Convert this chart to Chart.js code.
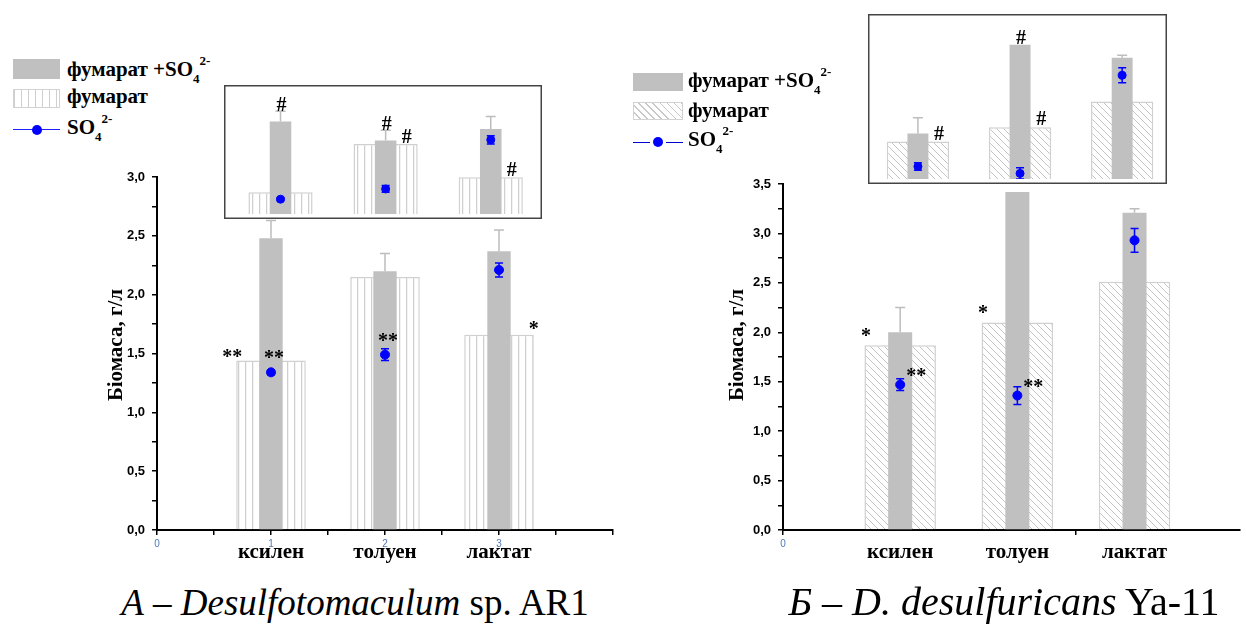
<!DOCTYPE html>
<html>
<head>
<meta charset="utf-8">
<script src="https://cdn.jsdelivr.net/npm/chart.js@4.4.0/dist/chart.umd.min.js"></script>
<style>
  body { margin: 0; width: 1246px; height: 626px; background: #fff; position: relative; overflow: hidden; }
  canvas { position: absolute; }
  .inset { background: #fff; }
  .leg { position: absolute; font: bold 21px 'Liberation Serif'; line-height: 21px; white-space: nowrap; color: #000; }
  .leg sub { font-size: 13px; line-height: 0; vertical-align: -7px; }
  .leg sup { font-size: 13px; line-height: 0; vertical-align: 11px; }
  .sw { position: absolute; box-sizing: border-box; }
  .sw.gray { background: #c0c0c0; }
  .sw.vert { border: 1px solid #d2d2d2; background: repeating-linear-gradient(90deg, #cfcfcf 0 1px, #fff 1px 7px); }
  .sw.diag { border: 1px solid #d2d2d2; background: repeating-linear-gradient(45deg, #fff 0 4px, #c8c8c8 4px 5px); }
  .ln { position: absolute; height: 0; border-top: 1.5px solid #2020ff; }
  .dot { position: absolute; width: 10px; height: 10px; border-radius: 50%; background: #0000ff; }
  .ytitle { position: absolute; width: 200px; height: 24px; line-height: 24px; text-align: center;
            font: bold 21px 'Liberation Serif'; transform: rotate(-90deg); color: #000; }
  .cap { position: absolute; width: 600px; text-align: center; font-family: 'Liberation Serif'; color: #000; white-space: nowrap; }
</style>
</head>
<body>
<canvas id="aMain" width="625" height="430" style="left:0;top:150px"></canvas>
<canvas id="bMain" width="621" height="430" style="left:625px;top:150px"></canvas>
<canvas id="aInset" class="inset" width="318" height="134" style="left:224px;top:85px"></canvas>
<canvas id="bInset" class="inset" width="299" height="170" style="left:868px;top:14px"></canvas>

<!-- legend A -->
<div class="sw gray" style="left:13px;top:59px;width:47px;height:20px"></div>
<div class="leg" style="left:67px;top:59px">фумарат +SO<sub>4</sub><sup>2-</sup></div>
<div class="sw vert" style="left:13px;top:89px;width:47px;height:19px"></div>
<div class="leg" style="left:67px;top:86px">фумарат</div>
<div class="ln" style="left:13px;top:129px;width:47px"></div>
<div class="dot" style="left:32px;top:125px"></div>
<div class="leg" style="left:67px;top:117px">SO<sub>4</sub><sup>2-</sup></div>

<!-- legend B -->
<div class="sw gray" style="left:633px;top:73px;width:50px;height:18px"></div>
<div class="leg" style="left:688px;top:70px">фумарат +SO<sub>4</sub><sup>2-</sup></div>
<div class="sw diag" style="left:633px;top:102px;width:50px;height:18px"></div>
<div class="leg" style="left:688px;top:100px">фумарат</div>
<div class="ln" style="left:633px;top:142px;width:17px;border-color:#0000cc"></div>
<div class="ln" style="left:666px;top:142px;width:17px;border-color:#0000cc"></div>
<div class="dot" style="left:653px;top:137px"></div>
<div class="leg" style="left:688px;top:129px">SO<sub>4</sub><sup>2-</sup></div>

<div class="ytitle" style="left:15px;top:333px">Біомаса, г/л</div>
<div class="ytitle" style="left:636px;top:333px">Біомаса, г/л</div>

<div class="cap" style="left:55px;top:584px;font-size:37px;line-height:37px"><i>А – Desulfotomaculum</i> sp. AR1</div>
<div class="cap" style="left:704px;top:582px;font-size:40px;line-height:40px"><i>Б – D. desulfuricans</i> Ya-11</div>

<script>
  // categories on the x axis (positions 1, 2, 3)
  const categories = ['ксилен', 'толуен', 'лактат'];
  const catX = [1, 2, 3];

  // A – Desulfotomaculum sp. AR1
  const aFumSulf = [2.48, 2.20, 2.37];
  const aFumSulfErr = [0.15, 0.15, 0.18];
  const aFum = [1.44, 2.15, 1.66];
  const aSulf = [1.34, 1.49, 2.21];
  const aSulfErr = [0.02, 0.05, 0.06];

  // Б – D. desulfuricans Ya-11
  const bFumSulf = [2.00, 3.42, 3.21];
  const bFumSulfErr = [0.25, 0, 0.04];
  const bFum = [1.87, 2.10, 2.51];
  const bSulf = [1.47, 1.36, 2.93];
  const bSulfErr = [0.06, 0.09, 0.12];

  // significance marks: which category and which element they sit next to
  const aMainMarks = [
    { cat: 0, at: 'fumLeft', text: '**' },
    { cat: 0, at: 'sulf', text: '**' },
    { cat: 1, at: 'sulf', text: '**' },
    { cat: 2, at: 'fumRight', text: '*' }
  ];
  const aInsetMarks = [
    { cat: 0, at: 'top', text: '#' },
    { cat: 1, at: 'top', text: '#' },
    { cat: 1, at: 'fumRight', text: '#' },
    { cat: 2, at: 'fumRight', text: '#' }
  ];
  const bMainMarks = [
    { cat: 0, at: 'fumLeft', text: '*' },
    { cat: 0, at: 'sulf', text: '**' },
    { cat: 1, at: 'fumLeft', text: '*' },
    { cat: 1, at: 'sulf', text: '**' }
  ];
  const bInsetMarks = [
    { cat: 0, at: 'fumRight', text: '#' },
    { cat: 1, at: 'top', text: '#' },
    { cat: 1, at: 'fumRight', text: '#' }
  ];

  const blue = '#0000ff';
  const gray = '#c0c0c0';
  const xStep = 0.5;       // x tick step, the bar "ruler" is this wide
  const fumWidth = 0.61;   // bar widths in x units
  const sulfBarWidth = 0.205;

  function points(values) {
    return values.map((v, i) => ({ x: catX[i], y: v }));
  }

  function makePattern(kind) {
    const s = 7;
    const c = document.createElement('canvas');
    c.width = s; c.height = s;
    const g = c.getContext('2d');
    g.fillStyle = '#fff';
    g.fillRect(0, 0, s, s);
    g.strokeStyle = kind === 'vert' ? '#cfcfcf' : '#c4c4c4';
    g.lineWidth = kind === 'vert' ? 1.3 : 1;
    g.beginPath();
    if (kind === 'vert') {
      g.moveTo(0.6, 0); g.lineTo(0.6, s);
    } else {
      for (let k = -1; k <= 1; k++) { g.moveTo(k * s, 0); g.lineTo(k * s + s, s); }
    }
    g.stroke();
    return g.createPattern(c, 'repeat');
  }

  // error bars: grey ones only upward, blue ones both ways
  const errorBars = {
    id: 'errorBars',
    afterDatasetsDraw(chart) {
      const { ctx, chartArea } = chart;
      const y = chart.scales.y;
      ctx.save();
      ctx.beginPath();
      ctx.rect(chartArea.left, chartArea.top - 1, chartArea.width, chartArea.height + 1);
      ctx.clip();
      chart.data.datasets.forEach((ds, di) => {
        if (!ds.errors) return;
        const meta = chart.getDatasetMeta(di);
        ctx.strokeStyle = ds.errColor;
        ctx.lineWidth = 1.5;
        meta.data.forEach((el, i) => {
          const e = ds.errors[i];
          if (!e) return;
          const v = ds.data[i].y;
          const top = y.getPixelForValue(v + e);
          const bot = ds.errBoth ? y.getPixelForValue(v - e) : el.y;
          const cap = ds.errCap / 2;
          ctx.beginPath();
          ctx.moveTo(el.x, bot); ctx.lineTo(el.x, top);
          ctx.moveTo(el.x - cap, top); ctx.lineTo(el.x + cap, top);
          if (ds.errBoth) { ctx.moveTo(el.x - cap, bot); ctx.lineTo(el.x + cap, bot); }
          ctx.stroke();
        });
      });
      ctx.restore();
    }
  };

  function marksPlugin(items, offsets, font) {
    return {
      id: 'sigMarks',
      afterDatasetsDraw(chart) {
        const { ctx } = chart;
        const y = chart.scales.y;
        const sulfMeta = chart.getDatasetMeta(0);
        const fsMeta = chart.getDatasetMeta(1);
        const fumMeta = chart.getDatasetMeta(2);
        const fsData = chart.data.datasets[1];
        ctx.save();
        ctx.font = font;
        ctx.fillStyle = '#000';
        ctx.textAlign = 'center';
        ctx.textBaseline = 'alphabetic';
        items.forEach(m => {
          let px, py;
          if (m.at === 'fumLeft' || m.at === 'fumRight') {
            const el = fumMeta.data[m.cat];
            px = el.x + (m.at === 'fumLeft' ? -1 : 1) * el.width / 2;
            py = el.y;
          } else if (m.at === 'top') {
            const el = fsMeta.data[m.cat];
            px = el.x;
            py = y.getPixelForValue(fsData.data[m.cat].y + (fsData.errors[m.cat] || 0));
          } else {
            const el = sulfMeta.data[m.cat];
            px = el.x; py = el.y;
          }
          const [dx, dy] = offsets[m.at];
          const tm = ctx.measureText(m.text);
          ctx.fillText(m.text, px + dx, py + dy + (tm.actualBoundingBoxAscent - tm.actualBoundingBoxDescent) / 2);
        });
        ctx.restore();
      }
    };
  }

  const categoryNames = {
    id: 'categoryNames',
    afterDraw(chart) {
      const { ctx, chartArea } = chart;
      const x = chart.scales.x;
      ctx.save();
      ctx.font = "bold 21px 'Liberation Serif'";
      ctx.fillStyle = '#000';
      ctx.textAlign = 'center';
      ctx.textBaseline = 'middle';
      categories.forEach((c, i) => ctx.fillText(c, x.getPixelForValue(catX[i]), chartArea.bottom + 23));
      ctx.restore();
    }
  };

  const frame = {
    id: 'frame',
    afterDraw(chart) {
      const { ctx, width, height } = chart;
      ctx.save();
      ctx.strokeStyle = '#444';
      ctx.lineWidth = 1.5;
      ctx.strokeRect(0.75, 0.75, width - 1.5, height - 1.5);
      ctx.restore();
    }
  };

  function datasets(fumSulf, fumSulfErr, fum, sulf, sulfErr, pattern, pointRadius) {
    return [
      {
        type: 'line', label: 'SO4', data: points(sulf), errors: sulfErr, errBoth: true, errCap: 8, errColor: blue,
        showLine: false, pointRadius: pointRadius, pointBackgroundColor: blue, pointBorderColor: blue
      },
      {
        label: 'фумарат +SO4', data: points(fumSulf), errors: fumSulfErr, errBoth: false, errCap: 10, errColor: '#bdbdbd',
        backgroundColor: gray, borderWidth: 0, grouped: false,
        barPercentage: sulfBarWidth / xStep, categoryPercentage: 1
      },
      {
        label: 'фумарат', data: points(fum),
        backgroundColor: pattern, borderColor: '#d0d0d0', borderWidth: 1.5, grouped: false,
        barPercentage: fumWidth / xStep, categoryPercentage: 1
      }
    ];
  }

  function mainChart(id, cfg) {
    return new Chart(document.getElementById(id), {
      type: 'bar',
      data: { datasets: datasets(cfg.fumSulf, cfg.fumSulfErr, cfg.fum, cfg.sulf, cfg.sulfErr, cfg.pattern, 4.5) },
      options: {
        responsive: false,
        animation: false,
        events: [],
        layout: { padding: cfg.padding },
        plugins: { legend: { display: false }, tooltip: { enabled: false } },
        scales: {
          x: {
            type: 'linear', min: 0, max: cfg.xMax, offset: false,
            afterFit: s => { s.height = 50; },
            border: { color: '#000', width: 2 },
            grid: {
              offset: false, drawOnChartArea: false, tickLength: 5, lineWidth: 1.5,
              color: c => cfg.xTickShown(c.tick.value) ? '#000' : 'rgba(0,0,0,0)'
            },
            ticks: {
              stepSize: xStep, includeBounds: false, autoSkip: false, maxRotation: 0, padding: 3,
              color: '#4f78b5', font: { family: 'Liberation Sans', size: 10 },
              callback: v => cfg.xLabel(v)
            }
          },
          y: {
            min: 0, max: cfg.yMax,
            afterFit: s => { s.width = cfg.yWidth; },
            border: { color: '#000', width: 2 },
            grid: { drawOnChartArea: false, tickLength: 5, lineWidth: 1.5, color: '#000' },
            ticks: {
              stepSize: 0.25, autoSkip: false, padding: 7, color: '#000',
              font: { family: 'Liberation Sans', size: 13, weight: 'bold' },
              callback: v => Math.abs(v * 2 - Math.round(v * 2)) < 1e-6 ? v.toFixed(1).replace('.', ',') : ''
            }
          }
        }
      },
      plugins: [errorBars, marksPlugin(cfg.marks, cfg.offsets, "bold 20px 'Liberation Serif'"), categoryNames]
    });
  }

  function insetChart(id, cfg) {
    return new Chart(document.getElementById(id), {
      type: 'bar',
      data: { datasets: datasets(cfg.fumSulf, cfg.fumSulfErr, cfg.fum, cfg.sulf, cfg.sulfErr, cfg.pattern, 4) },
      options: {
        responsive: false,
        animation: false,
        events: [],
        layout: { padding: 0 },
        plugins: { legend: { display: false }, tooltip: { enabled: false } },
        scales: {
          x: {
            type: 'linear', display: false, min: cfg.xMin, max: cfg.xMax, offset: false,
            grid: { offset: false }, ticks: { stepSize: xStep, includeBounds: false }
          },
          y: { display: false, min: cfg.yMin, max: cfg.yMax }
        }
      },
      plugins: [errorBars, marksPlugin(cfg.marks, cfg.offsets, "bold 20px 'Liberation Serif'"), frame]
    });
  }

  const vertPattern = makePattern('vert');
  const diagPattern = makePattern('diag');

  mainChart('aMain', {
    fumSulf: aFumSulf, fumSulfErr: aFumSulfErr, fum: aFum, sulf: aSulf, sulfErr: aSulfErr,
    pattern: vertPattern, xMax: 4, yMax: 3, yWidth: 157,
    padding: { left: 0, right: 12, top: 27, bottom: 0 },
    xTickShown: () => true,
    xLabel: v => (Number.isInteger(v) && v < 4 ? String(v) : ''),
    marks: aMainMarks,
    offsets: { fumLeft: [-4, -8], sulf: [3, -18], fumRight: [0, -10] }
  });

  mainChart('bMain', {
    fumSulf: bFumSulf, fumSulfErr: bFumSulfErr, fum: bFum, sulf: bSulf, sulfErr: bSulfErr,
    pattern: diagPattern, xMax: 3.9, yMax: 3.5, yWidth: 158,
    padding: { left: 0, right: 6, top: 34, bottom: 0 },
    xTickShown: v => v === 0 || v === 2.5,
    xLabel: v => (v === 0 ? '0' : ''),
    marks: bMainMarks,
    offsets: { fumLeft: [1.5, -13], sulf: [16, -13] }
  });

  insetChart('aInset', {
    fumSulf: aFumSulf, fumSulfErr: aFumSulfErr, fum: aFum, sulf: aSulf, sulfErr: aSulfErr,
    pattern: vertPattern, xMin: 0.51, xMax: 3.44, yMin: 1.123, yMax: 2.94,
    marks: aInsetMarks,
    offsets: { top: [1, -7], fumRight: [-11, -8] }
  });

  insetChart('bInset', {
    fumSulf: bFumSulf, fumSulfErr: bFumSulfErr, fum: bFum, sulf: bSulf, sulfErr: bSulfErr,
    pattern: diagPattern, xMin: 0.56, xMax: 3.39, yMin: 1.27, yMax: 3.83,
    marks: bInsetMarks,
    offsets: { top: [1, -8], fumRight: [-10, -9] }
  });
</script>
</body>
</html>
